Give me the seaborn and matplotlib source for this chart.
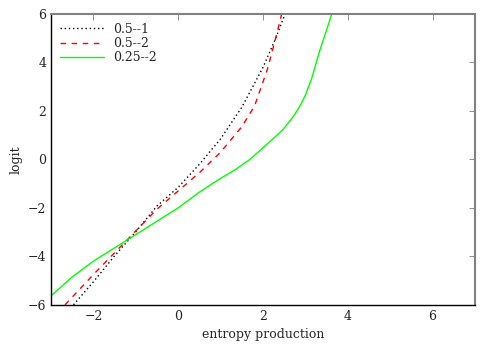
import pandas as pd
import matplotlib
matplotlib.use("Agg")
import matplotlib.pyplot as plt
import seaborn as sns

# curve 0.5--1 (black dotted)
x_a = [-2.47, -2.0, -1.5, -1.0, -0.5, 0.0, 0.5, 1.0, 1.5, 2.0, 2.3, 2.52]
y_a = [-6.0, -5.05, -3.98, -2.98, -1.92, -1.15, -0.2, 0.85, 2.15, 3.8, 5.0, 6.0]

# curve 0.5--2 (red dashed)
x_b = [-2.67, -2.0, -1.5, -1.0, -0.5, 0.0, 0.5, 1.0, 1.5, 1.8, 2.1, 2.3, 2.44]
y_b = [-6.0, -4.75, -3.85, -2.95, -2.05, -1.3, -0.55, 0.3, 1.35, 2.2, 3.7, 5.0, 6.0]

# curve 0.25--2 (green solid)
x_c = [-3.0, -2.5, -2.0, -1.5, -1.0, -0.5, 0.0, 0.5, 1.0, 1.35, 1.69, 2.0, 2.3,
       2.48, 2.72, 2.87, 3.0, 3.15, 3.34, 3.5, 3.62]
y_c = [-5.63, -4.85, -4.2, -3.65, -3.1, -2.55, -2.0, -1.35, -0.78, -0.42, 0.0, 0.48, 0.95,
       1.25, 1.78, 2.2, 2.65, 3.35, 4.5, 5.34, 6.0]

labels = ["0.5--1", "0.5--2", "0.25--2"]
colors = ["black", "#ff0000", "#00ff00"]
styles = [(0, (1, 2)), (0, (4, 4)), "-"]

sns.set_style("white")
plt.rcParams["font.family"] = ["DejaVu Serif"]
plt.rcParams["font.size"] = 9

fig = plt.figure(figsize=(5, 3.5), dpi=100)
ax = fig.add_axes([0.102, 0.129, 0.848, 0.831])

for xs, ys, lab, col, ls in zip([x_a, x_b, x_c], [y_a, y_b, y_c], labels, colors, styles):
    df = pd.DataFrame({"x": xs, "y": ys})
    sns.lineplot(data=df, x="x", y="y", sort=False, color=col, linestyle=ls,
                 linewidth=1.0, label=lab, ax=ax)

ax.set_xlim(-3, 7)
ax.set_ylim(-6, 6)
ax.set_xticks([-2, 0, 2, 4, 6])
ax.set_yticks([-6, -4, -2, 0, 2, 4, 6])
ax.set_xlabel("entropy production")
ax.set_ylabel("logit")

for side in ["left", "bottom"]:
    ax.spines[side].set_color("black")
    ax.spines[side].set_linewidth(1.0)
for side in ["top", "right"]:
    ax.spines[side].set_color("gray")
    ax.spines[side].set_linewidth(1.5)
ax.tick_params(direction="in", length=4, width=0.6, color="gray",
               top=True, right=True, labelsize=9)

leg = ax.legend(loc="upper left", frameon=False, handlelength=3.5,
                borderaxespad=0.3, labelspacing=0.1, handletextpad=0.8)

fig.savefig("out.png", dpi=100)
